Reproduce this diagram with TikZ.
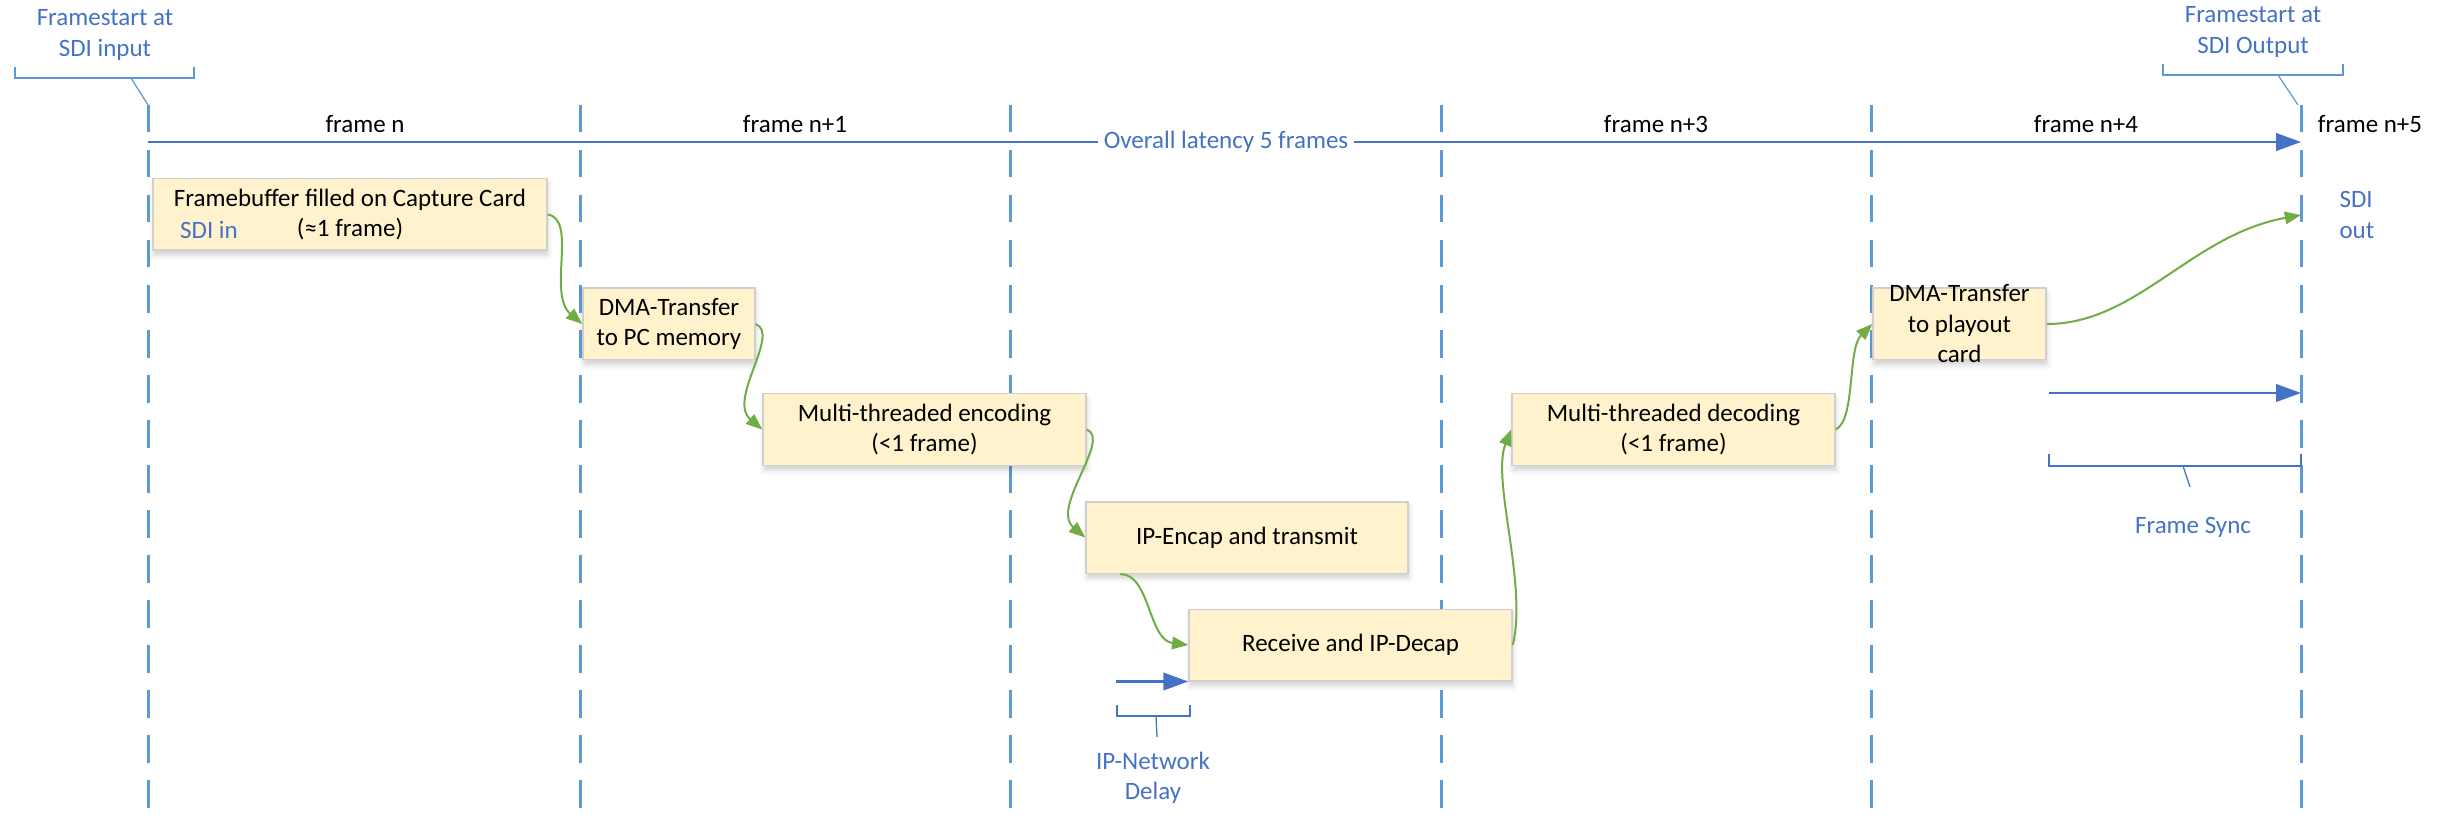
\documentclass[tikz,border=0pt]{standalone}
\usepackage{fontspec}
\setmainfont{Carlito}
\usepackage{tikz}
\usetikzlibrary{arrows.meta,shadows.blur}
\definecolor{laneblue}{HTML}{5B9BD5}
\definecolor{darkblue}{HTML}{4472C4}
\definecolor{flowgreen}{HTML}{70AD47}
\definecolor{boxyellow}{HTML}{FFF2CC}
\definecolor{boxgray}{HTML}{D0CECE}

\begin{document}
\begin{tikzpicture}[x=0.4pt,y=-0.4pt,font=\fontsize{10pt}{12.2pt}\selectfont]
  \tikzset{BoxStyle/.style = {
    shape          = rectangle,
    draw           = boxgray,
    fill           = boxyellow,
    line width     = 0.6pt,
    text           = black,
    align          = center,
    inner sep      = 0pt,
    minimum height = 28.6pt,
    blur shadow    = {shadow xshift=0.4pt, shadow yshift=-2pt, shadow blur radius=2pt, shadow opacity=18}
    }
  }
  \tikzset{LaneStyle/.style = {
    draw         = laneblue,
    line width   = 1.2pt,
    dash pattern = on 11pt off 7pt
    }
  }
  \tikzset{TimeStyle/.style = {
    draw       = darkblue,
    line width = 1pt,
    -{Triangle[length=10pt,width=7pt]}
    }
  }
  \tikzset{FlowStyle/.style = {
    draw       = flowgreen,
    line width = 0.8pt,
    -{Triangle[length=6.5pt,width=5pt]}
    }
  }
  \tikzset{BraceStyle/.style = {
    draw       = darkblue,
    line width = 0.5pt
    }
  }
  \tikzset{NoteStyle/.style = {
    text      = darkblue,
    align     = center,
    inner sep = 0pt
    }
  }
  \tikzset{FrameLabelStyle/.style = {
    text      = black,
    inner sep = 0pt
    }
  }

  \useasboundingbox (0,0) rectangle (2450,818);

  % frame boundaries
  \draw[LaneStyle] (148,105) -- (148,818);
  \draw[LaneStyle] (580,105) -- (580,818);
  \draw[LaneStyle] (1010,105) -- (1010,818);
  \draw[LaneStyle] (1441,105) -- (1441,818);
  \draw[LaneStyle] (1871,105) -- (1871,818);
  \draw[LaneStyle] (2301,105) -- (2301,818);

  % frame start markers
  \node[NoteStyle](inlabel) at (105,35) {Framestart at\\SDI input};
  \draw[BraceStyle, draw=laneblue] (15,67) -- (15,78) -- (194,78) -- (194,67);
  \draw[BraceStyle, draw=laneblue] (131,78) -- (148,105);
  \node[NoteStyle](outlabel) at (2253,32) {Framestart at\\SDI Output};
  \draw[BraceStyle, draw=laneblue] (2163,64) -- (2163,75) -- (2343,75) -- (2343,64);
  \draw[BraceStyle, draw=laneblue] (2278,75) -- (2298,105);

  \node[FrameLabelStyle](F0) at (365,124) {frame n};
  \node[FrameLabelStyle](F1) at (795,124) {frame n+1};
  \node[FrameLabelStyle](F3) at (1656,124) {frame n+3};
  \node[FrameLabelStyle](F4) at (2086,124) {frame n+4};
  \node[FrameLabelStyle](F5) at (2370,124) {frame n+5};

  % overall latency
  \coordinate (tstart) at (148,142);
  \coordinate (tend) at (2301,142);
  \draw[TimeStyle](tstart) to (tend);
  \node[NoteStyle, fill=white, inner xsep=2.5pt, inner ysep=1pt](latency) at (1226,142) {Overall latency 5 frames};

  % processing steps
  \node[BoxStyle, minimum width=157.6pt](fbuf) at (350,214.5) {Framebuffer filled on Capture Card\\(≈1 frame)};
  \node[NoteStyle](sdiin) at (209,230) {SDI in};
  \node[BoxStyle, minimum width=68.8pt](dmapc) at (669,324) {DMA-Transfer\\to PC memory};
  \node[BoxStyle, minimum width=129.2pt](enc) at (924.5,429.5) {Multi-threaded encoding\\(<1 frame)};
  \node[BoxStyle, minimum width=128.8pt](encap) at (1247,537.5) {IP-Encap and transmit};
  \node[BoxStyle, minimum width=129.2pt](decap) at (1350.5,645) {Receive and IP-Decap};
  \node[BoxStyle, minimum width=129.2pt](dec) at (1673.5,429.5) {Multi-threaded decoding\\(<1 frame)};
  \node[BoxStyle, minimum width=69.2pt](dmaout) at (1959.5,324) {};
  \node[FrameLabelStyle, align=center](dmaouttext) at (dmaout) {DMA-Transfer\\to playout\\card};

  \coordinate (sdiout) at (2301,215);
  \node[NoteStyle, align=left, anchor=west](sdioutlabel) at (2339,215) {SDI\\out};

  % data path
  \draw[FlowStyle](fbuf.east) .. controls +(30,5) and +(-35,-30) .. (dmapc.west);
  \draw[FlowStyle](dmapc.east) .. controls +(25,10) and +(-35,-30) .. (enc.west);
  \draw[FlowStyle](enc.east) .. controls +(25,10) and +(-35,-30) .. (encap.west);
  \draw[FlowStyle]([xshift=14pt]encap.south west) .. controls +(30,0) and +(-40,-5) .. (decap.west);
  \draw[FlowStyle](decap.east) .. controls +(15,-60) and +(-20,50) .. (dec.west);
  \draw[FlowStyle](dec.east) .. controls +(20,-10) and +(-25,25) .. (dmaout.west);
  \draw[FlowStyle](dmaout.east) .. controls +(90,0) and +(-110,20) .. (sdiout);

  % network delay
  \coordinate (netstart) at ([xshift=-28.8pt]decap.south west);
  \draw[TimeStyle](netstart) to (decap.south west);
  \draw[BraceStyle] (1117,705) -- (1117,716) -- (1190,716) -- (1190,705);
  \draw[BraceStyle] (1156,716) -- (1157,737);
  \node[NoteStyle](netlabel) at (1153,778) {IP-Network\\Delay};

  % frame sync
  \coordinate (syncstart) at (2049,393);
  \coordinate (syncend) at (2301,393);
  \draw[TimeStyle](syncstart) to (syncend);
  \draw[BraceStyle] (2049,454) -- (2049,466) -- (2301,466) -- (2301,454);
  \draw[BraceStyle] (2183,466) -- (2190,487);
  \node[NoteStyle](synclabel) at (2193,527) {Frame Sync};

\end{tikzpicture}
\end{document}
